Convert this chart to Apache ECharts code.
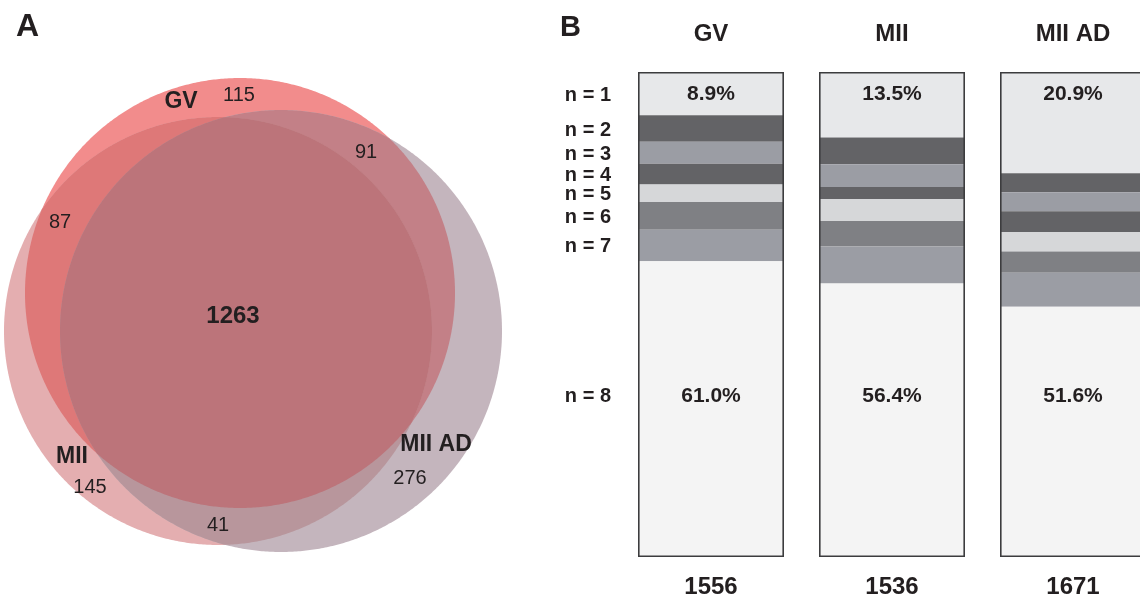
<!DOCTYPE html>
<html>
<head>
<meta charset="utf-8">
<script src="https://cdn.jsdelivr.net/npm/echarts@6/dist/echarts.min.js"></script>
<style>
  html, body { margin: 0; padding: 0; background: #ffffff; overflow: hidden; }
  #wrap { width: 1140px; height: 600px; overflow: hidden; }
  #chart { width: 1180px; height: 600px; }
</style>
</head>
<body>
<div id="wrap"><div id="chart"></div></div>
<script>
// ---------------- DATA ----------------
// Panel A: Venn diagram
const vennSets = ['GV', 'MII', 'MII AD'];
const vennRegionSets = [
  ['GV'], ['GV', 'MII AD'], ['GV', 'MII'], ['GV', 'MII', 'MII AD'],
  ['MII'], ['MII', 'MII AD'], ['MII AD']
];
const vennCounts = [115, 91, 87, 1263, 145, 41, 276];

// Panel B: stacked bars (percent of proteins detected in n replicates)
const stageNames = ['GV', 'MII', 'MII AD'];
const stageTotals = [1556, 1536, 1671];
const nLabels = ['n = 1', 'n = 2', 'n = 3', 'n = 4', 'n = 5', 'n = 6', 'n = 7', 'n = 8'];
const n1 = [8.9, 13.5, 20.9];
const n2 = [5.5, 5.5, 3.9];
const n3 = [4.5, 4.7, 3.9];
const n4 = [4.3, 2.5, 4.3];
const n5 = [3.6, 4.5, 4.0];
const n6 = [5.7, 5.3, 4.4];
const n7 = [6.5, 7.6, 7.0];
const n8 = [61.0, 56.4, 51.6];

// ---------------- LAYOUT / STYLE ----------------
const FONT = '"Liberation Sans", Arial, Helvetica, sans-serif';
const TXT = '#231f20';
// Venn circle geometry (in panel-A axis units, 1 unit = 1 px)
const vennCircleGeom = { 'GV': [240, 293, 215], 'MII': [218, 331, 214], 'MII AD': [281, 331, 221] };
const vennRegionColors = ['#f28c8c', '#c38087', '#de7878', '#bc747a', '#e4aeb0', '#b8969c', '#c4b5bd'];
const vennCountPos = [[239, 95], [366, 152], [60, 222], [233, 316], [90, 487], [218, 525], [410, 478]];
const vennNamePos = [[181, 102], [72, 457], [436, 445]];
const segColors = ['#e7e8ea', '#636366', '#9b9da4', '#636366', '#d6d7d9', '#7f8084', '#9b9da4', '#f4f4f4'];

// ---------------- GEOMETRY HELPERS ----------------
function circlePoly(g, n) {
  const pts = [];
  for (let i = 0; i < n; i++) {
    const t = 2 * Math.PI * i / n;
    pts.push([g[0] + g[2] * Math.cos(t), g[1] + g[2] * Math.sin(t)]);
  }
  return pts;
}
function clipPoly(subject, clip) {
  let out = subject;
  for (let i = 0; i < clip.length; i++) {
    const A = clip[i], B = clip[(i + 1) % clip.length];
    const inp = out; out = [];
    if (!inp.length) break;
    const inside = p => (B[0] - A[0]) * (p[1] - A[1]) - (B[1] - A[1]) * (p[0] - A[0]) >= 0;
    const inter = (P, Q) => {
      const a1 = B[1] - A[1], b1 = A[0] - B[0], c1 = a1 * A[0] + b1 * A[1];
      const a2 = Q[1] - P[1], b2 = P[0] - Q[0], c2 = a2 * P[0] + b2 * P[1];
      const det = a1 * b2 - a2 * b1;
      return [(b2 * c1 - b1 * c2) / det, (a1 * c2 - a2 * c1) / det];
    };
    for (let j = 0; j < inp.length; j++) {
      const cur = inp[j], prev = inp[(j + inp.length - 1) % inp.length];
      if (inside(cur)) {
        if (!inside(prev)) out.push(inter(prev, cur));
        out.push(cur);
      } else if (inside(prev)) {
        out.push(inter(prev, cur));
      }
    }
  }
  return out;
}
function regionPoly(sets) {
  let poly = circlePoly(vennCircleGeom[sets[0]], 720);
  for (let k = 1; k < sets.length; k++) poly = clipPoly(poly, circlePoly(vennCircleGeom[sets[k]], 720));
  return poly;
}
// paint order: single circles first, then pairwise lenses, then the triple overlap
const vennOrder = vennRegionSets.map((s, i) => i).sort((a, b) => vennRegionSets[a].length - vennRegionSets[b].length);

// ---------------- CHART ----------------
const chart = echarts.init(document.getElementById('chart'), null, { renderer: 'canvas' });
const nSeriesData = [n1, n2, n3, n4, n5, n6, n7, n8];
const colTotals = stageNames.map((s, i) => nSeriesData.reduce((acc, arr) => acc + arr[i], 0));

const barSeries = nSeriesData.map((arr, k) => {
  const s = {
    name: nLabels[k], type: 'bar', stack: 'pct', xAxisIndex: 1, yAxisIndex: 1,
    barWidth: 146, data: arr, itemStyle: { color: segColors[k] }, z: 2,
    emphasis: { disabled: true }
  };
  if (k === 0 || k === 7) {
    s.label = {
      show: true, position: k === 0 ? 'insideTop' : 'insideBottom', distance: k === 0 ? 12 : 150,
      formatter: p => p.value.toFixed(1) + '%',
      fontFamily: FONT, fontWeight: 'bold', fontSize: 21, color: TXT
    };
  }
  return s;
});

const option = {
  animation: false,
  backgroundColor: '#ffffff',
  title: [
    { text: 'A', left: 11, top: 6, textStyle: { fontFamily: FONT, fontWeight: 'bold', fontSize: 32, color: TXT } },
    { text: 'B', left: 555, top: 8, textStyle: { fontFamily: FONT, fontWeight: 'bold', fontSize: 29, color: TXT } }
  ],
  grid: [
    { left: 0, top: 0, width: 520, height: 600 },
    { left: 620.5, top: 72, width: 543, height: 485 }
  ],
  xAxis: [
    { type: 'value', gridIndex: 0, min: 0, max: 520, show: false },
    { type: 'category', gridIndex: 1, position: 'bottom', data: stageNames,
      axisLine: { show: false }, axisTick: { show: false }, splitLine: { show: false },
      axisLabel: { margin: 18, formatter: (v, i) => String(stageTotals[i]),
        fontFamily: FONT, fontWeight: 'bold', fontSize: 24, color: TXT } },
    { type: 'category', gridIndex: 1, position: 'top', data: stageNames,
      axisLine: { show: false }, axisTick: { show: false }, splitLine: { show: false },
      axisLabel: { margin: 26, fontFamily: FONT, fontWeight: 'bold', fontSize: 24, color: TXT } }
  ],
  yAxis: [
    { type: 'value', gridIndex: 0, min: 0, max: 600, inverse: true, show: false },
    { type: 'value', gridIndex: 1, min: 0, max: 100, inverse: true, show: false }
  ],
  series: [
    {
      type: 'custom', name: 'venn', xAxisIndex: 0, yAxisIndex: 0, z: 1,
      data: vennOrder.map(i => [i, vennCounts[i]]),
      renderItem: (params, api) => {
        const ri = vennOrder[params.dataIndex];
        const pts = regionPoly(vennRegionSets[ri]).map(p => api.coord(p));
        return { type: 'polygon', shape: { points: pts }, style: { fill: vennRegionColors[ri] } };
      },
      silent: true
    },
    {
      type: 'custom', name: 'vennCounts', xAxisIndex: 0, yAxisIndex: 0, z: 5,
      data: vennCounts.map((v, i) => [i, v]),
      renderItem: (params, api) => {
        const i = params.dataIndex;
        const c = api.coord(vennCountPos[i]);
        const central = vennRegionSets[i].length === 3;
        return { type: 'text', x: c[0], y: c[1], style: {
          text: String(vennCounts[i]), fill: TXT, align: 'center', verticalAlign: 'middle',
          fontFamily: FONT, fontSize: central ? 24 : 20, fontWeight: central ? 'bold' : 'normal' } };
      },
      silent: true
    },
    {
      type: 'custom', name: 'vennNames', xAxisIndex: 0, yAxisIndex: 0, z: 5,
      data: vennSets.map((s, i) => [i, 0]),
      renderItem: (params, api) => {
        const i = params.dataIndex;
        const c = api.coord(vennNamePos[i]);
        return { type: 'text', x: c[0], y: c[1], style: {
          text: vennSets[i], fill: TXT, align: 'center', verticalAlign: 'middle',
          fontFamily: FONT, fontSize: 23, fontWeight: 'bold' } };
      },
      silent: true
    },
    ...barSeries,
    {
      type: 'bar', name: 'outline', xAxisIndex: 1, yAxisIndex: 1, barWidth: 146, barGap: '-100%',
      data: colTotals, z: 4, silent: true,
      itemStyle: { color: 'rgba(0,0,0,0)', borderColor: '#3c3c3e', borderWidth: 1.6 }
    },
    {
      type: 'custom', name: 'rowLabels', xAxisIndex: 1, yAxisIndex: 1, z: 5,
      data: nLabels.map((l, k) => [0, k]),
      renderItem: (params, api) => {
        const k = params.dataIndex;
        let cum = 0;
        for (let j = 0; j < k; j++) cum += nSeriesData[j][0];
        const mid = cum + nSeriesData[k][0] / 2;
        const left = api.coord([0, 0])[0] - 146 / 2 - 27;
        let y = api.coord([0, mid])[1] + 1.5;
        if (k === nLabels.length - 1) y = api.coord([0, 100])[1] - 161;
        return { type: 'text', x: left, y: y, style: {
          text: nLabels[k], fill: TXT, align: 'right', verticalAlign: 'middle',
          fontFamily: FONT, fontSize: 20, fontWeight: 'bold' } };
      },
      silent: true
    }
  ]
};
chart.setOption(option);
</script>
</body>
</html>
